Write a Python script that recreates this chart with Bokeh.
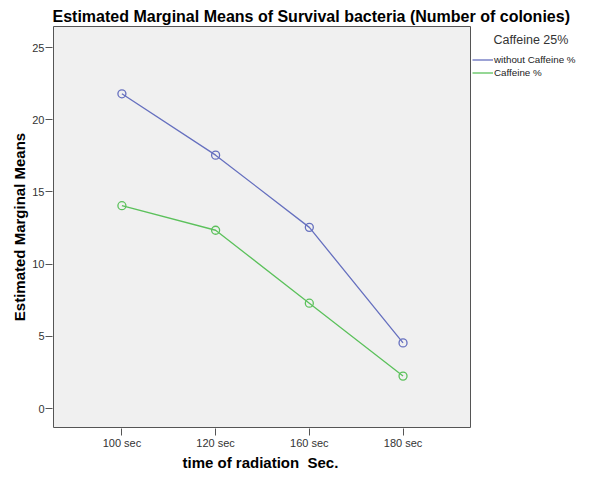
from bokeh.plotting import figure
from bokeh.models import Legend, LegendItem, Range1d, Label, Title
from bokeh.embed import file_html
from bokeh.resources import INLINE

# ---- data ----
categories = ["100 sec", "120 sec", "160 sec", "180 sec"]
without_caffeine = [21.8, 17.55, 12.55, 4.55]
caffeine = [14.05, 12.35, 7.3, 2.25]
y_ticks = [0, 5, 10, 15, 20, 25]
series_names = ["without Caffeine %", "Caffeine %"]
legend_title = "Caffeine 25%"
chart_title = "Estimated Marginal Means of Survival bacteria (Number of colonies)"
x_title = "time of radiation\u00a0\u00a0Sec."
y_title = "Estimated Marginal Means"

xpos = list(range(1, len(categories) + 1))
FONT = "Liberation Sans"
BLUE = "#6670bf"
GREEN = "#5cc15c"

# ---- layout (pixels inside the figure) ----
W, H = 579, 474
FL, FT, MB = 52, 25, 46          # frame left, frame top, bottom border
FR = W - 1                        # frame right (frame also holds the legend)
FB = H - MB                       # frame bottom
DR = 470                          # right edge of the plotting area
x0, x1 = 0.27, 4.72               # plotting-area x extent (category units)
y0, y1 = -1.31, 26.46             # plotting-area y extent
PX = (DR - FL - 1) / (x1 - x0)
PY = (FB - FT - 2) / (y1 - y0)

p = figure(width=W, height=H, output_backend="svg", toolbar_location=None,
           x_range=Range1d(x0 - 1 / PX, x1 + (FR - DR) / PX),
           y_range=Range1d(y0 - 1 / PY, y1 + 1 / PY),
           min_border_left=FL, min_border_right=1, min_border_top=FT,
           min_border_bottom=MB)
p.background_fill_color = "white"
p.border_fill_color = "white"
p.outline_line_color = None
p.grid.visible = False

p.title.text = chart_title
p.title.text_font = FONT
p.title.text_font_size = "16px"
p.title.text_font_style = "bold"
p.title.text_color = "#000000"
p.title.align = "left"
p.title.offset = 0
p.title.standoff = 2

for ax in (p.xaxis[0], p.yaxis[0]):
    ax.axis_line_color = None
    ax.major_tick_in = 0
    ax.major_tick_out = 7
    ax.major_tick_line_color = "#555555"
    ax.minor_tick_line_color = None
    ax.major_label_text_font = FONT
    ax.major_label_text_font_size = "11px"
    ax.major_label_text_color = "#333333"
    ax.axis_label_text_font = FONT
    ax.axis_label_text_font_style = "bold"
    ax.axis_label_text_color = "#000000"
    ax.axis_label_text_font_size = "15px"

p.xaxis.ticker = xpos
p.xaxis.major_label_overrides = {x: c for x, c in zip(xpos, categories)}
p.xaxis.major_label_standoff = 1

p.yaxis.ticker = y_ticks
p.yaxis.major_label_standoff = 1
p.yaxis.axis_label = y_title
p.yaxis.axis_label_standoff = 1

p.add_layout(Title(text=x_title, align="left", offset=130, standoff=0,
                   text_font=FONT, text_font_size="15px",
                   text_font_style="bold", text_color="#000000"), "below")

# plotting area panel
p.quad(left=[x0], right=[x1], bottom=[y0], top=[y1],
       fill_color="#f0f0f0", line_color="#555555", line_width=1)

r1l = p.line(xpos, without_caffeine, line_color=BLUE, line_width=1.3)
p.scatter(xpos, without_caffeine, marker="circle", size=8, fill_color=None,
          line_color=BLUE, line_width=1.3)
r2l = p.line(xpos, caffeine, line_color=GREEN, line_width=1.3)
p.scatter(xpos, caffeine, marker="circle", size=8, fill_color=None,
          line_color=GREEN, line_width=1.3)

legend = Legend(items=[LegendItem(label=series_names[0], renderers=[r1l]),
                       LegendItem(label=series_names[1], renderers=[r2l])],
                location=(DR + 2 - FL, FB - 78.5), orientation="vertical",
                background_fill_alpha=0, border_line_color=None,
                padding=0, margin=0, spacing=0,
                glyph_width=21, glyph_height=13, label_height=13,
                label_standoff=1, label_text_font=FONT,
                label_text_font_size="9.8px", label_text_color="#222222")
p.add_layout(legend)

p.add_layout(Label(x=x1 + 23 / PX, y=y1 + 1 / PY - 14 / PY, text=legend_title,
                   text_font=FONT, text_font_size="12.5px",
                   text_color="#333333", text_baseline="middle",
                   text_align="left"))

open("out.html", "w").write(file_html(p, INLINE))
